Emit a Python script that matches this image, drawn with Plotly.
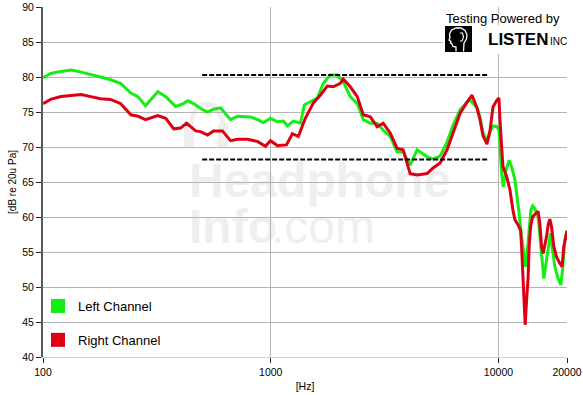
import math
import plotly.graph_objects as go

# ---------------- data ----------------
freq_left = [100, 108, 120, 133, 147, 162, 179, 198, 219, 243, 261, 282, 319, 346, 382, 414, 432, 458,
             492, 528, 561, 602, 666, 715, 815, 874, 929, 997, 1070, 1137, 1184, 1257, 1350, 1405,
             1493, 1602, 1702, 1826, 1960, 2083, 2235, 2399, 2549, 2735, 2935, 3118, 3347, 3590,
             3815, 4095, 4394, 4861, 5164, 5542, 5947, 6318, 6781, 7278, 7501, 8050, 8298, 8553,
             8904, 9179, 9461, 9849, 10051, 10328, 10495, 10785, 11151, 11424, 11811, 12088, 12333,
             12635, 12932, 13157, 13372, 13602, 13881, 14120, 14452, 14942, 15199, 15464, 15825,
             16264, 16647, 16934, 17276, 17683, 18281, 18785, 19112, 19561, 20000]
db_left = [79.9, 80.5, 80.8, 81.0, 80.7, 80.3, 80.0, 79.6, 79.1, 77.7, 77.2, 75.9, 77.9, 77.2, 75.8,
           76.2, 76.6, 76.2, 75.5, 75.0, 75.4, 75.6, 73.9, 74.4, 74.3, 73.9, 73.5, 74.1, 73.6, 73.7,
           73.0, 73.7, 73.4, 76.0, 76.5, 77.0, 79.1, 80.3, 80.3, 79.3, 77.2, 76.2, 73.9, 73.4, 73.4,
           72.4, 71.5, 69.3, 69.3, 67.4, 69.6, 68.6, 68.3, 68.7, 70.7, 73.1, 75.3, 76.4, 76.7, 75.6,
           74.3, 72.0, 70.9, 72.2, 73.0, 72.9, 72.4, 66.2, 64.3, 66.7, 68.1, 67.2, 65.3, 62.9, 60.5,
           57.2, 54.3, 52.9, 54.8, 58.1, 61.0, 61.6, 61.2, 60.0, 57.2, 53.9, 51.2, 53.9, 55.8, 57.7,
           55.3, 52.9, 51.2, 50.3, 52.4, 56.7, 58.1]

freq_right = [100, 108, 120, 133, 147, 162, 179, 198, 219, 243, 261, 282, 319, 346, 375, 402, 427, 468,
              492, 528, 561, 614, 666, 715, 790, 874, 948, 997, 1070, 1172, 1245, 1322, 1419, 1539,
              1651, 1772, 1883, 2021, 2083, 2235, 2399, 2549, 2735, 2935, 3118, 3347, 3590, 3815,
              4095, 4394, 4861, 5164, 5542, 5947, 6318, 6781, 7278, 7656, 8050, 8298, 8553, 8904,
              9179, 9461, 9849, 10051, 10153, 10328, 10464, 10862, 11231, 11575, 11811, 12172, 12510,
              12635, 12840, 12971, 13103, 13289, 13505, 13643, 13839, 14120, 14452, 14942, 15199,
              15464, 15716, 16264, 16529, 16813, 17106, 17505, 17989, 18600, 19033, 19364, 20000]
db_right = [76.2, 76.8, 77.2, 77.4, 77.5, 77.2, 76.9, 76.8, 76.2, 74.6, 74.4, 73.9, 74.5, 74.1, 72.6,
            72.7, 73.4, 72.3, 72.2, 71.7, 72.3, 72.3, 70.9, 71.1, 71.1, 70.8, 70.1, 70.9, 70.2, 70.3,
            71.9, 71.5, 74.1, 76.3, 77.4, 78.7, 78.6, 79.1, 79.7, 78.6, 77.2, 74.6, 74.3, 72.9, 73.4,
            72.0, 69.8, 69.6, 66.2, 66.0, 66.2, 67.0, 67.7, 69.6, 72.0, 74.8, 76.4, 77.4, 75.6, 73.9,
            71.6, 70.4, 72.3, 75.7, 76.7, 77.0, 73.9, 70.0, 67.2, 65.8, 63.9, 61.0, 59.6, 58.9, 58.1,
            55.8, 51.5, 48.6, 44.6, 48.1, 51.5, 55.8, 58.6, 60.0, 60.4, 60.8, 59.1, 55.8, 54.8, 57.2,
            58.9, 59.7, 58.6, 55.8, 54.3, 53.4, 52.9, 55.8, 58.0]

target_freq = [500, 9000]
target_upper = [80.3, 80.3]
target_lower = [68.2, 68.2]

x_tick_vals = [100, 1000, 10000, 20000]
x_tick_text = ["100", "1000", "10000", "20000"]
y_tick_vals = [40, 45, 50, 55, 60, 65, 70, 75, 80, 85, 90]

series_names = ["Left Channel", "Right Channel"]

# ---------------- styling ----------------
GREEN = "#14ee14"
RED = "#dd0014"
W, H = 583, 395
ML, MR, MT, MB = 43, 16, 7, 38
TICK_FONT = dict(family="Liberation Sans, Arial, sans-serif", size=10.5, color="#000")
LEG_FONT = dict(family="Liberation Sans, Arial, sans-serif", size=13, color="#000")
WM = "#efefef"


def px(x):
    return (x - ML) / (W - ML - MR)


def py(y):
    return (H - MB - y) / (H - MT - MB)


fig = go.Figure()
fig.add_trace(go.Scatter(x=freq_left, y=db_left, mode="lines", name=series_names[0],
                         line=dict(color=GREEN, width=3), showlegend=False))
fig.add_trace(go.Scatter(x=freq_right, y=db_right, mode="lines", name=series_names[1],
                         line=dict(color=RED, width=3), showlegend=False))
for yy in (target_upper, target_lower):
    fig.add_trace(go.Scatter(x=target_freq, y=yy, mode="lines", showlegend=False,
                             line=dict(color="#000", width=2, dash="5px,2px")))

# legend entries (square swatches)
for nm, col in zip(series_names, [GREEN, RED]):
    fig.add_trace(go.Scatter(x=[None], y=[None], mode="markers", name=nm, legendgroup=nm,
                             marker=dict(symbol="square", size=14, color=col, line=dict(width=0))))

# ---------------- decorations ----------------
shapes = []
# watermark
shapes.append(dict(type="rect", xref="paper", yref="paper", x0=px(186), x1=px(470),
                   y0=py(200), y1=py(150), line=dict(width=0), layer="below",
                   label=dict(text="Headphone", textposition="middle left", padding=0,
                              font=dict(family="Liberation Sans, Arial", size=48, color=WM,
                                        weight="bold"))))
shapes.append(dict(type="rect", xref="paper", yref="paper", x0=px(186), x1=px(280),
                   y0=py(245), y1=py(197), line=dict(width=0), layer="below",
                   label=dict(text="Info", textposition="middle left", padding=0,
                              font=dict(family="Liberation Sans, Arial", size=48, color=WM,
                                        weight="bold"))))
shapes.append(dict(type="rect", xref="paper", yref="paper", x0=px(268), x1=px(400),
                   y0=py(245), y1=py(197), line=dict(width=0), layer="below",
                   label=dict(text=".com", textposition="middle left", padding=0,
                              font=dict(family="Liberation Sans, Arial", size=48, color=WM))))
# faint headphone icon
shapes.append(dict(type="path", xref="paper", yref="paper", layer="below",
                   path=f"M {px(190)},{py(138)} Q {px(190)},{py(104)} {px(207)},{py(104)} "
                        f"Q {px(224)},{py(104)} {px(224)},{py(138)}",
                   line=dict(color=WM, width=5)))
for x0 in (184, 218):
    shapes.append(dict(type="rect", xref="paper", yref="paper", layer="below",
                       x0=px(x0), x1=px(x0 + 10), y0=py(148), y1=py(124),
                       fillcolor=WM, line=dict(width=0)))

# logo
shapes.append(dict(type="rect", xref="paper", yref="paper", x0=px(443), x1=px(566.5),
                   y0=py(54), y1=py(25), fillcolor="white", line=dict(width=0), layer="above"))
shapes.append(dict(type="rect", xref="paper", yref="paper", x0=px(445), x1=px(472),
                   y0=py(52), y1=py(26), fillcolor="#000", line=dict(width=0), layer="above"))
head = [(456, 51.5), (456, 47), (453, 46.5), (452, 44), (450.5, 43), (451, 41.5), (449, 40),
        (450, 38), (449.5, 34), (451.5, 30), (456, 28), (461, 28), (465, 30.5), (467, 34.5),
        (466.5, 39), (464, 43), (463.5, 51.5)]
hp = "M " + " L ".join(f"{px(a)},{py(b)}" for a, b in head)
shapes.append(dict(type="path", xref="paper", yref="paper", path=hp, layer="above",
                   line=dict(color="white", width=1.3)))
ear = [(460, 33), (462.5, 33), (463.5, 37), (462, 41), (460, 41)]
shapes.append(dict(type="path", xref="paper", yref="paper", layer="above",
                   path="M " + " L ".join(f"{px(a)},{py(b)}" for a, b in ear),
                   line=dict(color="white", width=1.1)))

annotations = [
    dict(text="Testing Powered by", xref="paper", yref="paper", x=px(562), y=py(18),
         xanchor="right", yanchor="middle", showarrow=False, font=LEG_FONT),
    dict(text="<b>LISTEN</b>", xref="paper", yref="paper", x=px(486), y=py(39),
         xanchor="left", yanchor="middle", showarrow=False,
         font=dict(family="Liberation Sans, Arial", size=17, color="#000")),
    dict(text="INC", xref="paper", yref="paper", x=px(547.5), y=py(41),
         xanchor="left", yanchor="middle", showarrow=False,
         font=dict(family="Liberation Sans, Arial", size=10, color="#000")),
]

fig.update_layout(
    width=W, height=H,
    margin=dict(l=ML, r=MR, t=MT, b=MB, pad=0, autoexpand=False),
    plot_bgcolor="white", paper_bgcolor="white",
    shapes=shapes, annotations=annotations,
    legend=dict(x=px(38), y=py(291), xanchor="left", yanchor="top", font=LEG_FONT,
                bgcolor="rgba(0,0,0,0)", traceorder="grouped", tracegroupgap=14,
                itemsizing="trace"),
    xaxis=dict(type="log", range=[2, math.log10(20000)], tickvals=x_tick_vals,
               ticktext=x_tick_text, showgrid=True, gridcolor="#b4b4b4", gridwidth=1,
               showline=True, linecolor="#cfcfcf", linewidth=1, zeroline=False, automargin=False,
               ticks="outside", ticklen=5, tickcolor="#222", tickfont=TICK_FONT,
               title=dict(text="[Hz]", font=TICK_FONT, standoff=6)),
    yaxis=dict(range=[40, 90], tickvals=y_tick_vals, showgrid=True, gridcolor="#b4b4b4",
               gridwidth=1, showline=True, linecolor="#5a5a5a", linewidth=2, zeroline=False,
               automargin=False,
               ticks="outside", ticklen=5, tickcolor="#222", tickfont=TICK_FONT,
               title=dict(text="[dB re 20u Pa]", font=dict(family="Liberation Sans, Arial", size=10,
                                                           color="#000"), standoff=4)),
)

fig.write_html("out.html", config={"displayModeBar": False},
               post_script="document.body.style.margin='0';document.body.style.padding='0';")
